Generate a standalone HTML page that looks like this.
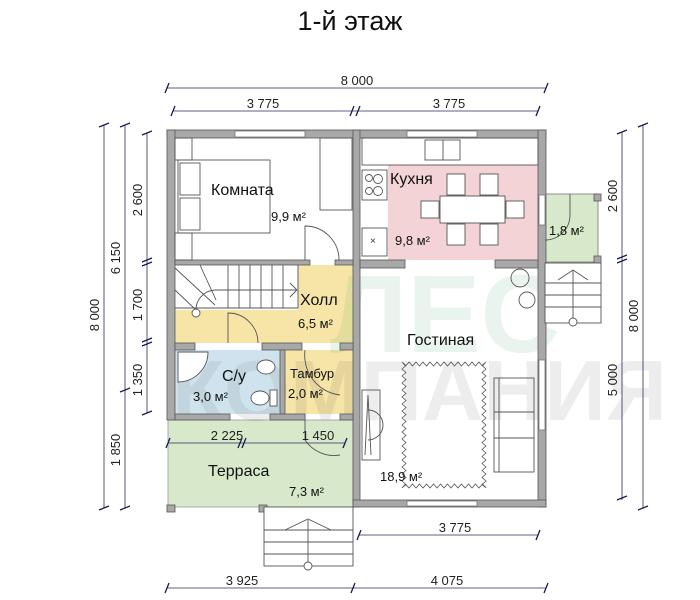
<!DOCTYPE html>
<html><head><meta charset="utf-8"><style>
html,body{margin:0;padding:0;background:#fff;}
svg{display:block;font-family:"Liberation Sans",sans-serif;}
</style></head><body>
<svg width="700" height="600" viewBox="0 0 700 600" xmlns="http://www.w3.org/2000/svg">
<text x="350" y="30" font-size="27" text-anchor="middle" fill="#111">1-й этаж</text>

<!-- room fills -->
<rect x="175" y="138" width="177" height="122" fill="#fff"/>
<rect x="360" y="138" width="178" height="122" fill="#fff"/>
<rect x="388" y="165" width="150" height="95" fill="#f3d3d6"/>
<rect x="175" y="265" width="178" height="78" fill="#f6e5a6"/>
<rect x="175" y="265" width="123" height="45" fill="#fff"/>
<rect x="175" y="350" width="105" height="64" fill="#cfe3ee"/>
<rect x="285" y="350" width="68" height="64" fill="#f6e5a6"/>
<rect x="168" y="420" width="185" height="87" fill="#d8e9cb" stroke="#999" stroke-width="0.8"/>
<rect x="360" y="268" width="178" height="232" fill="#fff"/>
<rect x="545" y="194" width="53" height="68" fill="#d8e9cb" stroke="#777" stroke-width="0.8"/>

<!-- watermark -->
<g opacity="0.1" font-weight="bold">
<text x="330" y="352" font-size="110" fill="#2a9a5a">ЛЕС</text>
<text x="172" y="420" font-size="85" fill="#555">КОМПАНИЯ</text>
</g>

<!-- walls -->
<g fill="#a8a8a8" stroke="#555" stroke-width="0.8">
<rect x="167" y="130" width="379" height="8"/>
<rect x="167" y="130" width="8" height="290"/>
<rect x="538" y="130" width="8" height="377"/>
<rect x="353" y="130" width="7" height="377"/>
<rect x="353" y="500" width="193" height="7"/>
<rect x="175" y="260" width="135" height="5"/>
<rect x="335" y="260" width="18" height="5"/>
<rect x="360" y="260" width="45" height="8"/>
<rect x="495" y="260" width="43" height="8"/>
<rect x="175" y="343" width="20" height="7"/>
<rect x="262" y="343" width="40" height="7"/>
<rect x="340" y="343" width="13" height="7"/>
<rect x="280" y="350" width="5" height="64"/>
<rect x="175" y="414" width="55" height="6"/>
<rect x="270" y="414" width="35" height="6"/>
<rect x="340" y="414" width="13" height="6"/>
<rect x="167" y="505" width="8" height="7"/>
<rect x="259" y="505" width="8" height="7"/>
<rect x="594" y="194" width="7" height="7"/>
<rect x="594" y="256" width="7" height="7"/>
</g>
<!-- windows -->
<g fill="#fff" stroke="#777" stroke-width="0.8">
<rect x="235" y="131" width="70" height="6"/>
<rect x="407" y="131" width="70" height="6"/>
<rect x="407" y="501" width="70" height="5"/>
<rect x="539" y="360" width="6" height="70"/>
<rect x="539" y="195" width="6" height="30"/>
</g>

<!-- bedroom furniture -->
<g fill="none" stroke="#555" stroke-width="0.9">
<rect x="178" y="160" width="92" height="73"/>
<rect x="180" y="163" width="20" height="32"/>
<rect x="180" y="198" width="20" height="32"/>
<rect x="175" y="138" width="17" height="22"/>
<rect x="175" y="233" width="17" height="27"/>
<rect x="320" y="138" width="32" height="72"/>
<path d="M305,260 L305,226 A34,34 0 0 1 339,260"/>
<!-- kitchen -->
<rect x="362" y="138" width="176" height="27"/>
<rect x="425" y="140" width="35" height="20"/><line x1="443" y1="140" x2="443" y2="160"/>
<rect x="362" y="170" width="25" height="30"/>
<circle cx="369" cy="178" r="3.5"/><circle cx="378" cy="179" r="4.5"/>
<circle cx="369" cy="191" r="3.5"/><circle cx="378" cy="191" r="4.5"/>
<rect x="362" y="228" width="25" height="28"/>
<rect x="440" y="196" width="65" height="27" fill="#fff"/>
<rect x="447" y="174" width="18" height="21" fill="#fff"/><rect x="480" y="174" width="18" height="21" fill="#fff"/>
<rect x="447" y="224" width="18" height="21" fill="#fff"/><rect x="480" y="224" width="18" height="21" fill="#fff"/>
<rect x="421" y="201" width="18" height="17" fill="#fff"/><rect x="506" y="201" width="18" height="17" fill="#fff"/>
<!-- stairs -->
<line x1="175" y1="308" x2="298" y2="308"/>
<line x1="298" y1="265" x2="298" y2="308"/>
<line x1="228" y1="265" x2="228" y2="308"/><line x1="239" y1="265" x2="239" y2="308"/>
<line x1="250" y1="265" x2="250" y2="308"/><line x1="261" y1="265" x2="261" y2="308"/>
<line x1="272" y1="265" x2="272" y2="308"/><line x1="283" y1="265" x2="283" y2="308"/>
<line x1="215" y1="290" x2="296" y2="290"/>
<line x1="175" y1="268" x2="215" y2="305"/><line x1="200" y1="265" x2="216" y2="300"/>
<line x1="175" y1="290" x2="196" y2="310"/>
<path d="M196,312 A20,20 0 0 1 215,290"/>
<circle cx="196" cy="313" r="4" fill="#fff"/>
<path d="M290,283 L297,290 L290,297"/>
<path d="M228,343 L228,313 A30,30 0 0 1 258,343"/>
<!-- bath -->
<path d="M178,352 L208,352 A30,30 0 0 1 178,382 Z" fill="#fff"/>
<ellipse cx="266" cy="367" rx="9" ry="7" fill="#fff"/>
<ellipse cx="260" cy="398" rx="9" ry="7" fill="#fff"/>
<rect x="270" y="390" width="7" height="16" fill="#fff"/>
<path d="M305,350 A40,40 0 0 0 340,395"/>
<path d="M305,420 L305,440 A35,35 0 0 0 340,455"/>
<!-- porch stairs -->
<rect x="545" y="263" width="56" height="60" fill="#fff"/>
<line x1="545" y1="283" x2="601" y2="283"/><line x1="545" y1="295" x2="601" y2="295"/><line x1="545" y1="307" x2="601" y2="307"/>
<line x1="573" y1="270" x2="573" y2="318"/>
<path d="M558,280 L573,270 L588,280"/>
<circle cx="573" cy="322" r="4" fill="#fff"/>
<path d="M545,240 A25,25 0 0 0 570,215 L570,194"/>
<!-- terrace stairs -->
<rect x="264" y="507" width="89" height="59" fill="#fff"/>
<line x1="264" y1="530" x2="353" y2="530"/><line x1="264" y1="542" x2="353" y2="542"/><line x1="264" y1="554" x2="353" y2="554"/>
<line x1="308" y1="520" x2="308" y2="562"/>
<path d="M285,530 L308,519 L331,530"/>
<circle cx="308" cy="566" r="4" fill="#fff"/>
<!-- living -->
<rect x="362" y="390" width="18" height="70"/>
<path d="M368,395 L365,455 M368,395 L371,455"/>
<path d="M368,410 A12,12 0 0 1 368,440"/>
<rect x="494" y="378" width="40" height="94"/>
<line x1="494" y1="412" x2="534" y2="412"/><line x1="494" y1="438" x2="534" y2="438"/>
<line x1="499" y1="378" x2="499" y2="472"/>
<circle cx="520" cy="278" r="9"/><circle cx="527" cy="300" r="8"/>
<path stroke-width="0.8" d="M402,362 l3.5,4 l3.5,-4 l3.5,4 l3.5,-4 l3.5,4 l3.5,-4 l3.5,4 l3.5,-4 l3.5,4 l3.5,-4 l3.5,4 l3.5,-4 l3.5,4 l3.5,-4 l3.5,4 l3.5,-4 l3.5,4 l3.5,-4 l3.5,4 l3.5,-4 l3.5,4 l3.5,-4 l3.5,4 l3.5,-4 l-4,3.5 l4,3.5 l-4,3.5 l4,3.5 l-4,3.5 l4,3.5 l-4,3.5 l4,3.5 l-4,3.5 l4,3.5 l-4,3.5 l4,3.5 l-4,3.5 l4,3.5 l-4,3.5 l4,3.5 l-4,3.5 l4,3.5 l-4,3.5 l4,3.5 l-4,3.5 l4,3.5 l-4,3.5 l4,3.5 l-4,3.5 l4,3.5 l-4,3.5 l4,3.5 l-4,3.5 l4,3.5 l-4,3.5 l4,3.5 l-4,3.5 l4,3.5 l-4,3.5 l4,3.5 l-3.5,-4 l-3.5,4 l-3.5,-4 l-3.5,4 l-3.5,-4 l-3.5,4 l-3.5,-4 l-3.5,4 l-3.5,-4 l-3.5,4 l-3.5,-4 l-3.5,4 l-3.5,-4 l-3.5,4 l-3.5,-4 l-3.5,4 l-3.5,-4 l-3.5,4 l-3.5,-4 l-3.5,4 l-3.5,-4 l-3.5,4 l-3.5,-4 l-3.5,4 l4,-3.5 l-4,-3.5 l4,-3.5 l-4,-3.5 l4,-3.5 l-4,-3.5 l4,-3.5 l-4,-3.5 l4,-3.5 l-4,-3.5 l4,-3.5 l-4,-3.5 l4,-3.5 l-4,-3.5 l4,-3.5 l-4,-3.5 l4,-3.5 l-4,-3.5 l4,-3.5 l-4,-3.5 l4,-3.5 l-4,-3.5 l4,-3.5 l-4,-3.5 l4,-3.5 l-4,-3.5 l4,-3.5 l-4,-3.5 l4,-3.5 l-4,-3.5 l4,-3.5 l-4,-3.5 l4,-3.5 l-4,-3.5 l4,-3.5 l-4,-3.5 Z"/>
</g>
<text x="370" y="244" font-size="10" fill="#333">×</text>

<!-- room labels -->
<g fill="#111" font-size="16">
<text x="211" y="195">Комната</text>
<text x="390" y="184">Кухня</text>
<text x="300" y="305">Холл</text>
<text x="407" y="345">Гостиная</text>
<text x="222" y="381">С/у</text>
<text x="208" y="476">Терраса</text>
</g>
<g fill="#111" font-size="13">
<text x="271" y="221">9,9 м²</text>
<text x="395" y="245">9,8 м²</text>
<text x="298" y="328">6,5 м²</text>
<text x="290" y="378">Тамбур</text>
<text x="288" y="398">2,0 м²</text>
<text x="193" y="401">3,0 м²</text>
<text x="289" y="496">7,3 м²</text>
<text x="380" y="481">18,9 м²</text>
<text x="549" y="235">1,8 м²</text>
</g>

<!-- dimensions -->
<g stroke="#2a2a60" stroke-width="0.8" fill="none">
<line x1="167" y1="88" x2="546" y2="88"/>
<line x1="173" y1="111" x2="538" y2="111"/>
<line x1="168" y1="443" x2="345" y2="443"/>
<line x1="359" y1="535" x2="538" y2="535"/>
<line x1="167" y1="588" x2="546" y2="588"/>
<line x1="104" y1="125" x2="104" y2="508"/>
<line x1="125" y1="125" x2="125" y2="508"/>
<line x1="147" y1="133" x2="147" y2="413"/>
<line x1="622" y1="132" x2="622" y2="500"/>
<line x1="643" y1="125" x2="643" y2="508"/>
</g>
<g stroke="#1a1a50" stroke-width="1.3">
<path d="M165,93 l4,-10 M544,93 l4,-10 M171,116 l4,-10 M350,116 l4,-10 M356,116 l4,-10 M536,116 l4,-10"/>
<path d="M166,448 l4,-10 M238,448 l4,-10 M242,448 l4,-10 M343,448 l4,-10"/>
<path d="M357,540 l4,-10 M536,540 l4,-10"/>
<path d="M165,593 l4,-10 M351,593 l4,-10 M544,593 l4,-10"/>
<path d="M99,127 l10,-4 M99,510 l10,-4 M120,127 l10,-4 M120,392 l10,-4 M120,510 l10,-4"/>
<path d="M142,135 l10,-4 M142,262 l10,-4 M142,266 l10,-4 M142,342 l10,-4 M142,346 l10,-4 M142,415 l10,-4"/>
<path d="M617,134 l10,-4 M617,259 l10,-4 M617,263 l10,-4 M617,500 l10,-4 M638,127 l10,-4 M638,510 l10,-4"/>
</g>
<g fill="#222" font-size="13" text-anchor="middle">
<text x="357" y="85">8 000</text>
<text x="263" y="108">3 775</text>
<text x="449" y="108">3 775</text>
<text x="227" y="440">2 225</text>
<text x="318" y="440">1 450</text>
<text x="455" y="532">3 775</text>
<text x="242" y="585">3 925</text>
<text x="447" y="585">4 075</text>
<text transform="translate(99,315) rotate(-90)">8 000</text>
<text transform="translate(120,258) rotate(-90)">6 150</text>
<text transform="translate(120,450) rotate(-90)">1 850</text>
<text transform="translate(142,200) rotate(-90)">2 600</text>
<text transform="translate(142,305) rotate(-90)">1 700</text>
<text transform="translate(142,380) rotate(-90)">1 350</text>
<text transform="translate(617,196) rotate(-90)">2 600</text>
<text transform="translate(617,380) rotate(-90)">5 000</text>
<text transform="translate(638,316) rotate(-90)">8 000</text>
</g>
</svg>
</body></html>
